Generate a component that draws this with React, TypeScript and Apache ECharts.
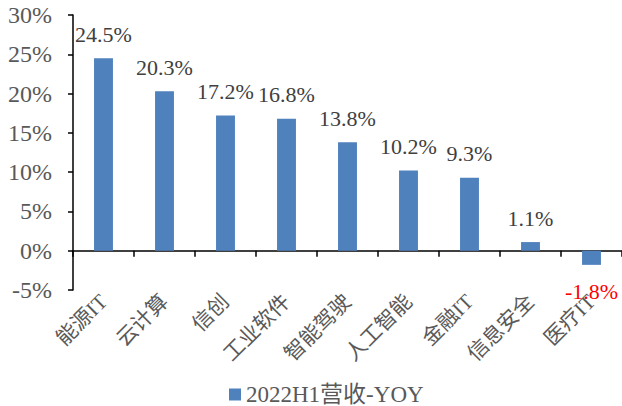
import React, { useEffect, useRef } from "react";
import * as echarts from "echarts";

const categories = ["能源IT", "云计算", "信创", "工业软件", "智能驾驶", "人工智能", "金融IT", "信息安全", "医疗IT"];
const yoyValues = [24.5, 20.3, 17.2, 16.8, 13.8, 10.2, 9.3, 1.1, -1.8];
const seriesName = "2022H1营收-YOY";

const SERIF = "'Liberation Serif', 'Times New Roman', 'Noto Sans CJK SC', serif";

export default function App() {
  const ref = useRef<HTMLDivElement>(null);
  useEffect(() => {
    if (!ref.current) return;
    const chart = echarts.init(ref.current, undefined, { renderer: "svg" });
    chart.setOption({
      animation: false,
      textStyle: { fontFamily: SERIF },
      grid: { left: 73, right: 0, top: 15, bottom: 116, containLabel: false },
      legend: {
        data: [seriesName],
        left: 224,
        top: 378,
        icon: "rect",
        itemWidth: 12,
        itemHeight: 12,
        itemGap: 5,
        textStyle: { fontFamily: SERIF, fontSize: 23, color: "#595959" },
      },
      xAxis: {
        type: "category",
        data: categories,
        axisLine: { onZero: true, lineStyle: { color: "#000", width: 1.5 } },
        axisTick: { show: true, length: 6, lineStyle: { color: "#000", width: 1.5 } },
        axisLabel: {
          rotate: 45,
          interval: 0,
          margin: 8,
          fontSize: 21,
          color: "#595959",
          fontFamily: SERIF,
        },
      },
      yAxis: {
        type: "value",
        min: -5,
        max: 30,
        interval: 5,
        splitLine: { show: false },
        axisLine: { show: true, lineStyle: { color: "#000", width: 1.5 } },
        axisTick: { show: true, length: 5, lineStyle: { color: "#000", width: 1.5 } },
        axisLabel: {
          formatter: "{value}%",
          fontSize: 24,
          color: "#595959",
          margin: 21,
          fontFamily: SERIF,
        },
      },
      series: [
        {
          name: seriesName,
          type: "bar",
          barWidth: "31%",
          itemStyle: { color: "#4F81BD" },
          data: yoyValues.map((v) =>
            v < 0
              ? {
                  value: v,
                  label: {
                    show: true,
                    position: "bottom",
                    distance: 16,
                    color: "#FF0000",
                    fontSize: 22,
                    fontFamily: SERIF,
                    formatter: (p: any) => p.value.toFixed(1) + "%",
                  },
                }
              : v
          ),
          label: {
            show: true,
            position: "top",
            distance: 13,
            fontSize: 22,
            color: "#404040",
            fontFamily: SERIF,
            formatter: (p: any) => Number(p.value).toFixed(1) + "%",
          },
        },
      ],
    });
    return () => chart.dispose();
  }, []);
  return (
    <div
      ref={ref}
      style={{ position: "absolute", left: 0, top: 0, width: 622, height: 406 }}
    />
  );
}
